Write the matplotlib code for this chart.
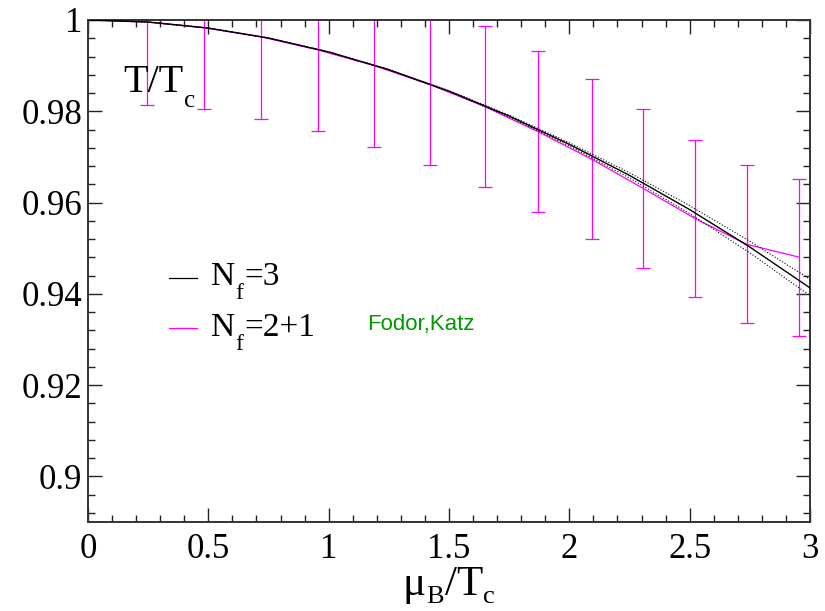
import matplotlib
matplotlib.use('Agg')
import matplotlib.pyplot as plt
from matplotlib.ticker import MultipleLocator, FixedLocator

# ---- data ----
x_nf3 = [0.0, 0.25, 0.5, 0.75, 1.0, 1.25, 1.5, 1.75, 2.0, 2.25, 2.5, 2.75, 3.0]
t_nf3 = [1.0, 0.99956, 0.99823, 0.99605, 0.99300, 0.98912, 0.98442, 0.97895,
         0.97275, 0.96595, 0.95845, 0.95025, 0.94130]
t_nf3_hi = [1.0, 0.99956, 0.99823, 0.99605, 0.99302, 0.98917, 0.98452, 0.97915,
            0.97310, 0.96652, 0.95932, 0.95152, 0.94320]
t_nf3_lo = [1.0, 0.99956, 0.99823, 0.99605, 0.99298, 0.98907, 0.98432, 0.97875,
            0.97240, 0.96538, 0.95758, 0.94898, 0.93960]

x_fk = [0.0, 0.244, 0.483, 0.719, 0.954, 1.190, 1.422, 1.650, 1.871, 2.093,
        2.307, 2.522, 2.737, 2.955]
t_fk = [1.0, 0.99955, 0.99830, 0.99630, 0.99345, 0.98998, 0.98581, 0.98100,
        0.97550, 0.96950, 0.96310, 0.95650, 0.95085, 0.94803]
err_fk = [0.0, 0.0181, 0.0179, 0.0179, 0.0178, 0.0177, 0.0176, 0.0177,
          0.0176, 0.0175, 0.0174, 0.0173, 0.0173, 0.0172]

xticks = [0, 0.5, 1, 1.5, 2, 2.5, 3]
xticklabels = ['0', '0.5', '1', '1.5', '2', '2.5', '3']
yticks = [0.9, 0.92, 0.94, 0.96, 0.98, 1.0]
yticklabels = ['0.9', '0.92', '0.94', '0.96', '0.98', '1']

plt.rcParams['font.family'] = ['Liberation Serif', 'DejaVu Serif']

W, H = 825, 611
fig = plt.figure(figsize=(W / 100, H / 100), dpi=100)
ax = fig.add_axes([88 / W, 1 - 522 / H, 722 / W, 502 / H])

magenta = '#ff00ff'
ax.plot(x_nf3, t_nf3, color='black', lw=1.0, zorder=3)
ax.plot(x_nf3, t_nf3_hi, ls=':', color='black', lw=0.8, zorder=3)
ax.plot(x_nf3, t_nf3_lo, ls=':', color='black', lw=0.8, zorder=3)
ax.errorbar(x_fk, t_fk, yerr=err_fk, color=magenta, lw=0.9, elinewidth=0.9,
            capsize=5, capthick=0.9, zorder=2)

ax.set_xlim(0, 3)
ax.set_ylim(0.89, 1.0)
ax.xaxis.set_major_locator(FixedLocator(xticks))
ax.set_xticklabels(xticklabels)
ax.yaxis.set_major_locator(FixedLocator(yticks))
ax.set_yticklabels(yticklabels)
ax.xaxis.set_minor_locator(MultipleLocator(0.1))
ax.yaxis.set_minor_locator(MultipleLocator(0.004))
ax.tick_params(which='both', direction='in', top=True, right=True, width=1.0,
               color='#222222')
ax.tick_params(which='major', length=10)
ax.tick_params(which='minor', length=5)
ax.tick_params(axis='y', labelsize=25, pad=4)
ax.tick_params(axis='x', labelsize=25, pad=8)
for s in ax.spines.values():
    s.set_linewidth(1.4)
    s.set_color('#333333')

renderer = fig.canvas.get_renderer()


def rich(parts, x0, base_y, color='black', gap=0.5):
    """Draw text pieces one after another; base_y is measured from the top."""
    x = x0
    for s, size, dy in parts:
        t = fig.text(x / W, (H - (base_y + dy)) / H, s, fontsize=size,
                     ha='left', va='baseline', color=color)
        bb = t.get_window_extent(renderer=renderer)
        x = bb.x1 + gap


# axis label  mu_B / T_c
rich([('μ', 31, 0), ('B', 19, 8), ('/T', 31, 0), ('c', 19, 8)], 403, 595)
# T / T_c inside the plot
rich([('T/T', 29, 0), ('c', 18, 15)], 123, 92)
# legend entries
rich([('N', 24, 0), ('f', 17, 14), ('=3', 24, 0)], 211, 285)
rich([('N', 24, 0), ('f', 17, 14), ('=2+1', 24, 0)], 211, 336)

ax.plot([0.1126, 0.1514], [0.4867, 0.4867], color='black', lw=0.9,
        transform=ax.transAxes)
ax.plot([0.1126, 0.1514], [0.3858, 0.3858], color=magenta, lw=0.9,
        transform=ax.transAxes)
ax.text(0.386, 0.3825, 'Fodor,Katz', transform=ax.transAxes, fontsize=16,
        color='#009900', family=['Liberation Sans', 'DejaVu Sans'])

fig.savefig('out.png', dpi=100)
